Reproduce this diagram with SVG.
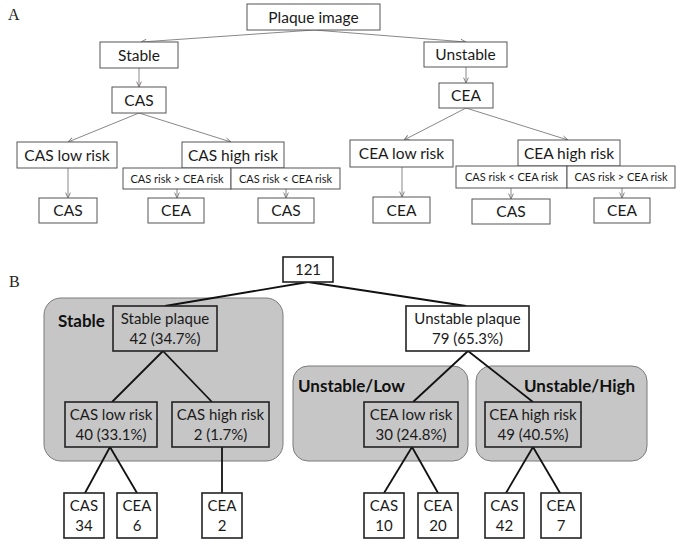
<svg xmlns="http://www.w3.org/2000/svg" width="682" height="548" viewBox="0 0 682 548">
<defs>
<marker id="ah" viewBox="0 0 10 10" refX="10" refY="5" markerWidth="6" markerHeight="6" orient="auto" markerUnits="userSpaceOnUse">
<path d="M1,1 L10,5 L1,9" fill="none" stroke="#777" stroke-width="1.5"/>
</marker>
</defs>
<style>
.a rect{fill:#fff;stroke:#555;stroke-width:1}
.t{font-family:Lato,"Liberation Sans",sans-serif;fill:#1a1a1a;text-anchor:middle}
.ta{font-size:15.5px}
.ts{font-size:11px}
.tb{font-size:15px}
.lbl{font-family:"Liberation Serif",serif;font-size:16px;fill:#222}
.ca line{stroke:#888;stroke-width:1;marker-end:url(#ah)}
.cb line{stroke:#111;stroke-width:1.8}
.b rect{fill:#fff;stroke:#222;stroke-width:1.6}
.g{fill:#c6c6c6;stroke:#7a7a7a;stroke-width:1}
.gb rect{fill:#c6c6c6}
.bold{font-family:Lato,"Liberation Sans",sans-serif;font-weight:bold;font-size:17px;fill:#111}
</style>
<rect width="682" height="548" fill="#fff"/>
<text class="lbl" x="8" y="20">A</text>
<text class="lbl" x="9" y="287">B</text>

<g class="ca" id="conn-a">
<line x1="314" y1="30" x2="141" y2="42"/>
<line x1="314" y1="30" x2="466" y2="42"/>
<line x1="139" y1="68" x2="139" y2="87"/>
<line x1="466" y1="67" x2="466" y2="83"/>
<line x1="139" y1="113" x2="68" y2="142"/>
<line x1="139" y1="113" x2="231" y2="142"/>
<line x1="68" y1="168" x2="68" y2="198"/>
<line x1="177" y1="189" x2="177" y2="198"/>
<line x1="286" y1="189" x2="286" y2="198"/>
<line x1="466" y1="108" x2="404" y2="140"/>
<line x1="466" y1="108" x2="568" y2="140"/>
<line x1="402" y1="167" x2="402" y2="197"/>
<line x1="511" y1="188" x2="511" y2="199"/>
<line x1="622" y1="188" x2="622" y2="198"/>
</g>

<g class="a" id="a-plaque"><rect x="247" y="4" width="133" height="26"/><text class="t ta" x="313.5" y="22.5">Plaque image</text></g>
<g class="a" id="a-stable"><rect x="100" y="42" width="78" height="26"/><text class="t ta" x="139" y="60.5">Stable</text></g>
<g class="a" id="a-unstable"><rect x="424" y="42" width="83" height="25"/><text class="t ta" x="465.5" y="60">Unstable</text></g>
<g class="a" id="a-cas"><rect x="112" y="87" width="54" height="26"/><text class="t ta" x="139" y="105.5">CAS</text></g>
<g class="a" id="a-cea"><rect x="439" y="83" width="54" height="25"/><text class="t ta" x="466" y="101">CEA</text></g>
<g class="a" id="a-caslow"><rect x="17" y="142" width="100" height="26"/><text class="t ta" x="67" y="160.5">CAS low risk</text></g>
<g class="a" id="a-cashigh"><rect x="182" y="142" width="102" height="26"/><text class="t ta" x="233" y="160.5">CAS high risk</text></g>
<g class="a" id="a-cashigh-gt"><rect x="123" y="168" width="108" height="21"/><text class="t ts" x="177" y="182.5">CAS risk &gt; CEA risk</text></g>
<g class="a" id="a-cashigh-lt"><rect x="231" y="168" width="109" height="21"/><text class="t ts" x="285.5" y="182.5">CAS risk &lt; CEA risk</text></g>
<g class="a" id="a-cas-l"><rect x="39" y="198" width="58" height="25"/><text class="t ta" x="68" y="216">CAS</text></g>
<g class="a" id="a-cea-m"><rect x="148" y="198" width="56" height="25"/><text class="t ta" x="176" y="216">CEA</text></g>
<g class="a" id="a-cas-r"><rect x="258" y="198" width="56" height="25"/><text class="t ta" x="286" y="216">CAS</text></g>
<g class="a" id="a-cealow"><rect x="350" y="140" width="103" height="27"/><text class="t ta" x="401.5" y="158.5">CEA low risk</text></g>
<g class="a" id="a-ceahigh"><rect x="518" y="140" width="102" height="26"/><text class="t ta" x="569" y="158.5">CEA high risk</text></g>
<g class="a" id="a-ceahigh-lt"><rect x="456" y="166" width="111" height="22"/><text class="t ts" x="511.5" y="181">CAS risk &lt; CEA risk</text></g>
<g class="a" id="a-ceahigh-gt"><rect x="567" y="166" width="108" height="22"/><text class="t ts" x="621" y="181">CAS risk &gt; CEA risk</text></g>
<g class="a" id="a-cea-l"><rect x="373" y="197" width="57" height="26"/><text class="t ta" x="401.5" y="215.5">CEA</text></g>
<g class="a" id="a-cas-m2"><rect x="472" y="199" width="78" height="25"/><text class="t ta" x="511" y="217">CAS</text></g>
<g class="a" id="a-cea-r"><rect x="594" y="198" width="56" height="25"/><text class="t ta" x="622" y="216">CEA</text></g>

<g id="region-stable"><rect class="g" x="44" y="298" width="239" height="163" rx="17"/><text class="bold" x="58" y="327">Stable</text></g>
<g id="region-unstable-low"><rect class="g" x="293" y="366" width="175" height="95" rx="15"/><text class="bold" x="298" y="392">Unstable/Low</text></g>
<g id="region-unstable-high"><rect class="g" x="476" y="366" width="171" height="95" rx="15"/><text class="bold" x="524" y="392">Unstable/High</text></g>

<g class="cb" id="conn-b">
<line x1="308" y1="282" x2="165" y2="306"/>
<line x1="308" y1="282" x2="466" y2="306"/>
<line x1="163" y1="351" x2="112" y2="402"/>
<line x1="163" y1="351" x2="212" y2="402"/>
<line x1="468" y1="351" x2="413" y2="402"/>
<line x1="468" y1="351" x2="533" y2="402"/>
<line x1="110" y1="447" x2="85" y2="493"/>
<line x1="110" y1="447" x2="137" y2="493"/>
<line x1="222" y1="447" x2="222" y2="493"/>
<line x1="412" y1="447" x2="384" y2="493"/>
<line x1="412" y1="447" x2="438" y2="493"/>
<line x1="533" y1="447" x2="506" y2="493"/>
<line x1="533" y1="447" x2="560" y2="493"/>
</g>

<g class="b" id="b-121"><rect x="283" y="257" width="50" height="25"/><text class="t tb" x="308" y="275">121</text></g>
<g class="b gb" id="b-stable"><rect x="113" y="306" width="104" height="45"/><text class="t tb" x="165" y="324">Stable plaque</text><text class="t tb" x="165" y="344">42 (34.7%)</text></g>
<g class="b" id="b-unstable"><rect x="406" y="306" width="123" height="45"/><text class="t tb" x="467.5" y="324">Unstable plaque</text><text class="t tb" x="467.5" y="344">79 (65.3%)</text></g>
<g class="b gb" id="b-caslow"><rect x="65" y="402" width="92" height="45"/><text class="t tb" x="111" y="420">CAS low risk</text><text class="t tb" x="111" y="440">40 (33.1%)</text></g>
<g class="b gb" id="b-cashigh"><rect x="172" y="402" width="97" height="45"/><text class="t tb" x="220.5" y="420">CAS high risk</text><text class="t tb" x="220.5" y="440">2 (1.7%)</text></g>
<g class="b gb" id="b-cealow"><rect x="364" y="402" width="94" height="45"/><text class="t tb" x="411" y="420">CEA low risk</text><text class="t tb" x="411" y="440">30 (24.8%)</text></g>
<g class="b gb" id="b-ceahigh"><rect x="485" y="402" width="96" height="45"/><text class="t tb" x="533" y="420">CEA high risk</text><text class="t tb" x="533" y="440">49 (40.5%)</text></g>
<g class="b" id="b-cas34"><rect x="64" y="493" width="40" height="45"/><text class="t tb" x="84" y="511">CAS</text><text class="t tb" x="84" y="531">34</text></g>
<g class="b" id="b-cea6"><rect x="117" y="493" width="40" height="45"/><text class="t tb" x="137" y="511">CEA</text><text class="t tb" x="137" y="531">6</text></g>
<g class="b" id="b-cea2"><rect x="202" y="493" width="40" height="45"/><text class="t tb" x="222" y="511">CEA</text><text class="t tb" x="222" y="531">2</text></g>
<g class="b" id="b-cas10"><rect x="364" y="493" width="40" height="45"/><text class="t tb" x="384" y="511">CAS</text><text class="t tb" x="384" y="531">10</text></g>
<g class="b" id="b-cea20"><rect x="418" y="493" width="40" height="45"/><text class="t tb" x="438" y="511">CEA</text><text class="t tb" x="438" y="531">20</text></g>
<g class="b" id="b-cas42"><rect x="485" y="493" width="39" height="45"/><text class="t tb" x="504.5" y="511">CAS</text><text class="t tb" x="504.5" y="531">42</text></g>
<g class="b" id="b-cea7"><rect x="541" y="493" width="40" height="45"/><text class="t tb" x="561" y="511">CEA</text><text class="t tb" x="561" y="531">7</text></g>
</svg>
